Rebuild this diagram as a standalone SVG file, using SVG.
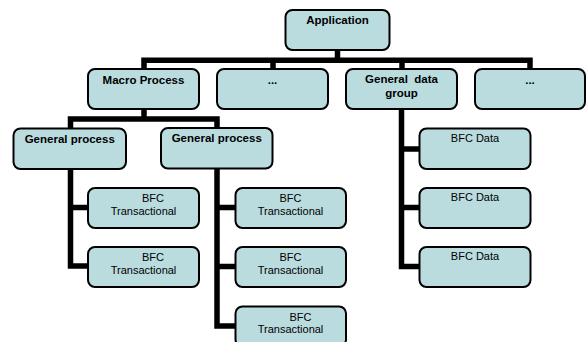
<svg xmlns="http://www.w3.org/2000/svg" width="586" height="342" viewBox="0 0 586 342">
<style>
.box{fill:#BADCDF;stroke:#000;stroke-width:2}
.t{font-family:"Liberation Sans",Arial,sans-serif;font-size:11px;fill:#000;text-anchor:middle}
.b{font-weight:bold;font-size:11.5px}
.c{fill:none;stroke:#000;stroke-width:5.5;stroke-linejoin:miter;stroke-linecap:butt}
</style>
<rect width="586" height="342" fill="#fff"/>
<g id="connectors">
<path class="c" d="M337.5,50 V60.3"/>
<path class="c" d="M144,69 V60.3 H530 V69"/>
<path class="c" d="M273,60.3 V69 M402,60.3 V69"/>
<path class="c" d="M144,109 V119"/>
<path class="c" d="M70.5,128.5 V119 H217 V128.5"/>
<path class="c" d="M70.5,169 V266 H88 M70.5,207.5 H88"/>
<path class="c" d="M217,169 V326 H235.5 M217,207.5 H235.5 M217,266.5 H235.5"/>
<path class="c" d="M401.5,109 V266.5 H419.5 M401.5,149 H419.5 M401.5,207.5 H419.5"/>
</g>
<g id="application"><rect class="box" x="285.5" y="10" width="104" height="40" rx="7"/><text class="t b" x="337.5" y="24">Application</text></g>
<g id="macro-process"><rect class="box" x="88" y="69" width="111" height="40" rx="7"/><text class="t b" x="143.5" y="84">Macro Process</text></g>
<g id="ellipsis-1"><rect class="box" x="217" y="69" width="111" height="40" rx="7"/><text class="t b" x="272.5" y="84">...</text></g>
<g id="general-data-group"><rect class="box" x="346" y="69" width="111" height="40" rx="7"/><text class="t b" x="401.5" y="83" xml:space="preserve" style="white-space:pre">General  data</text><text class="t b" x="401.5" y="97">group</text></g>
<g id="ellipsis-2"><rect class="box" x="475" y="69" width="110" height="40" rx="7"/><text class="t b" x="530" y="84">...</text></g>
<g id="general-process-1"><rect class="box" x="13.5" y="128.5" width="112.5" height="40.5" rx="7"/><text class="t b" x="69.75" y="143">General process</text></g>
<g id="general-process-2"><rect class="box" x="161" y="128" width="111.5" height="40.5" rx="7"/><text class="t b" x="216.75" y="142">General process</text></g>
<g id="bfc-trans-1"><rect class="box" x="88" y="188" width="111" height="40" rx="7"/><text class="t" x="153" y="202">BFC</text><text class="t" x="143.5" y="214.5">Transactional</text></g>
<g id="bfc-trans-2"><rect class="box" x="88" y="247" width="111" height="40" rx="7"/><text class="t" x="153" y="261">BFC</text><text class="t" x="143.5" y="273.5">Transactional</text></g>
<g id="bfc-trans-3"><rect class="box" x="235.5" y="188" width="110.5" height="40" rx="7"/><text class="t" x="290.5" y="202">BFC</text><text class="t" x="290.5" y="214.5">Transactional</text></g>
<g id="bfc-trans-4"><rect class="box" x="235.5" y="247" width="110.5" height="40" rx="7"/><text class="t" x="290.5" y="261">BFC</text><text class="t" x="290.5" y="273.5">Transactional</text></g>
<g id="bfc-trans-5"><rect class="box" x="235.5" y="306.5" width="110.5" height="40" rx="7"/><text class="t" x="300.5" y="320.5">BFC</text><text class="t" x="290.5" y="333">Transactional</text></g>
<g id="bfc-data-1"><rect class="box" x="419.5" y="128.5" width="111" height="40.5" rx="7"/><text class="t" x="475" y="141.5">BFC Data</text></g>
<g id="bfc-data-2"><rect class="box" x="419.5" y="188" width="111" height="40" rx="7"/><text class="t" x="475" y="201">BFC Data</text></g>
<g id="bfc-data-3"><rect class="box" x="419.5" y="247" width="111" height="40" rx="7"/><text class="t" x="475" y="260">BFC Data</text></g>
</svg>
